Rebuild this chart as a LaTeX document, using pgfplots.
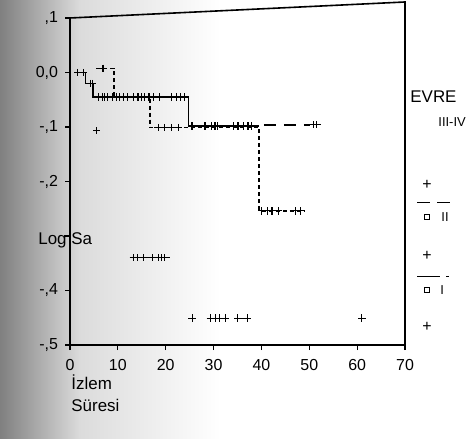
\documentclass[border=0pt]{standalone}
\usepackage{fontspec}
\setmainfont{Liberation Sans}
\usepackage{pgfplots}
\pgfplotsset{compat=1.18}

\begin{document}
\begin{tikzpicture}
% page in reference pixels (1px = 0.5bp), origin at the axis' lower left corner
\begin{scope}[shift={(-35bp,172.5bp)},x=0.5bp,y=-0.5bp]
  \fill[white] (0,0) rectangle (475,439);
  \shade[left color=black!50, right color=black!14] (0,0) rectangle (80,439);
  \shade[left color=black!14, right color=white] (79.5,0) rectangle (220,439);
\end{scope}

\begin{axis}[
  scale only axis,
  width=167.5bp, height=163.5bp,
  xmin=0, xmax=70, ymin=-0.5, ymax=0.1,
  axis x line*=bottom, axis y line*=left,
  axis line style={line width=0.8bp},
  xtick={0,10,...,70}, xticklabels={0,10,20,30,40,50,60,70},
  ytick={-0.5,-0.4,-0.3,-0.2,-0.1,0,0.1},
  yticklabels={{-,5},{-,4},{},{-,2},{-,1},{0,0},{,1}},
  ticklabel style={font=\fontsize{8}{9}\selectfont},
  xticklabel style={yshift=-1bp},
  tick align=outside, major tick length=2.5bp,
  tick style={black, line width=0.6bp},
  every axis plot/.append style={black},
]
  %% stage III-IV: solid step line
  \addplot[line width=0.7bp, const plot, mark=none] coordinates {
    (1,0) (3.2,-0.02) (4.8,-0.045) (24.7,-0.098) (39.5,-0.098)
  };
  %% its long-dashed tail
  \addplot[line width=0.7bp, dash pattern=on 6bp off 4bp] coordinates {
    (40.5,-0.096) (50.2,-0.096)
  };
  %% stage II: dashed step line
  \addplot[line width=0.6bp, const plot, dash pattern=on 2bp off 1.5bp] coordinates {
    (5.5,0.008) (9.2,-0.045) (16.7,-0.101) (39.5,-0.254) (49,-0.254)
  };
  %% short solid segments of the lower groups
  \addplot[line width=0.5bp] coordinates {(12.5,-0.340) (20.9,-0.340)};
  \addplot[line width=0.5bp] coordinates {(28.8,-0.4505) (33,-0.4505)};
  \addplot[line width=0.5bp] coordinates {(34.6,-0.4505) (37.4,-0.4505)};

  %% censored cases (+)
  \addplot[only marks, mark=+, mark size=1.8bp, mark options={line width=0.55bp, solid}] coordinates {
    (1.6,0) (2.9,0)
    (4.2,-0.02) (4.7,-0.02)
    (5.9,-0.045) (6.7,-0.045) (7.3,-0.045) (7.9,-0.045) (8.8,-0.045)
    (9.8,-0.045) (10.4,-0.045) (11.1,-0.045) (12.1,-0.045) (13.2,-0.045)
    (14.2,-0.045) (15.0,-0.045) (15.5,-0.045) (16.5,-0.045) (17.5,-0.045)
    (18.7,-0.045) (21.3,-0.045) (22.2,-0.045) (23.0,-0.045) (23.9,-0.045)
    (25.5,-0.098) (28.2,-0.098) (29.5,-0.098) (30.3,-0.098) (30.9,-0.098)
    (34.1,-0.098) (35.1,-0.098) (36.2,-0.098) (37.2,-0.098) (38.0,-0.098)
    (50.8,-0.096) (51.6,-0.096)
  };
  \addplot[only marks, mark=+, mark size=1.8bp, mark options={line width=0.55bp, solid}] coordinates {
    (6.9,0.008)
    (18.4,-0.101) (19.8,-0.101) (21.3,-0.101) (22.6,-0.101)
    (40.1,-0.254) (41.2,-0.254) (42.2,-0.254) (43.5,-0.254) (47.2,-0.254) (48.1,-0.254)
  };
  \addplot[only marks, mark=+, mark size=1.8bp, mark options={line width=0.5bp, solid}] coordinates {
    (5.6,-0.107)
    (13.2,-0.340) (14.2,-0.340) (15.3,-0.340) (17.3,-0.340) (18.4,-0.340) (19.2,-0.340) (19.8,-0.340)
    (25.5,-0.4505) (29.3,-0.4505) (30.3,-0.4505) (31.3,-0.4505) (32.4,-0.4505)
    (35.1,-0.4505) (37.0,-0.4505) (61.0,-0.4505)
  };
\end{axis}

\begin{scope}[shift={(-35bp,172.5bp)},x=0.5bp,y=-0.5bp]
  % top and right frame (slanted top as in the scan)
  \draw[line width=0.8bp] (70,18) -- (405,2) -- (405,345);
  \node[anchor=west, inner sep=0pt, font=\fontsize{8.5}{10}\selectfont] at (38,240) {Log Sa};
  \node[anchor=north west, align=left, inner sep=0pt, font=\fontsize{8.5}{11}\selectfont] at (71,374) {İzlem\\Süresi};
  % legend
  \node[anchor=west, inner sep=0pt, font=\fontsize{8.5}{10}\selectfont] at (410,97) {EVRE};
  \node[anchor=west, inner sep=0pt, font=\fontsize{6.5}{7}\selectfont] at (438,122) {III-IV};
  \node[inner sep=0pt, font=\fontsize{8}{9}\selectfont] at (427,185) {+};
  \draw[line width=0.5bp] (417,203) -- (430,203) (437,203) -- (450,203);
  \draw[line width=0.5bp] (424.5,214.5) rectangle (429.5,219.5);
  \node[anchor=west, inner sep=0pt, font=\fontsize{6.5}{7}\selectfont] at (441,217) {II};
  \node[inner sep=0pt, font=\fontsize{8}{9}\selectfont] at (427,256) {+};
  \draw[line width=0.5bp] (417,277) -- (440,277) (446,277) -- (449,277);
  \draw[line width=0.5bp] (424.5,287.5) rectangle (429.5,292.5);
  \node[anchor=west, inner sep=0pt, font=\fontsize{6.5}{7}\selectfont] at (440,290) {I};
  \node[inner sep=0pt, font=\fontsize{8}{9}\selectfont] at (427,327) {+};
\end{scope}
\end{tikzpicture}
\end{document}
